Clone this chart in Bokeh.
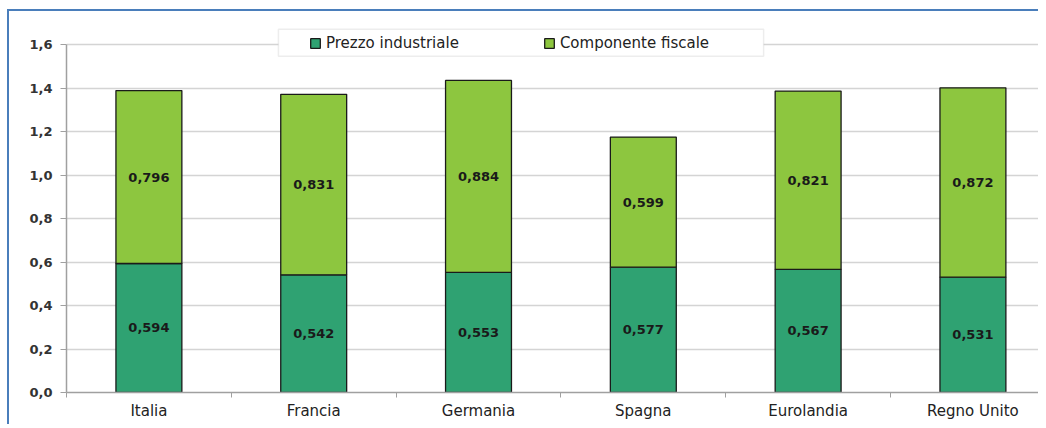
from bokeh.plotting import figure
from bokeh.models import (ColumnDataSource, Range1d, FixedTicker, CustomJSTickFormatter,
                          Legend, LegendItem, BoxAnnotation)
from bokeh.core.properties import value
from bokeh.embed import file_html
from bokeh.resources import INLINE

# Prezzo medio al consumo (euro/litro): prezzo industriale + componente fiscale
paesi = ["Italia", "Francia", "Germania", "Spagna", "Eurolandia", "Regno Unito"]
prezzo_industriale = [0.594, 0.542, 0.553, 0.577, 0.567, 0.531]
componente_fiscale = [0.796, 0.831, 0.884, 0.599, 0.821, 0.872]
serie = ["Prezzo industriale", "Componente fiscale"]
y_ticks = [0.0, 0.2, 0.4, 0.6, 0.8, 1.0, 1.2, 1.4, 1.6]

COL_PI = "#2FA272"
COL_CF = "#8DC63F"
EDGE = "#1A1A1A"
BLU = "#4A7EBB"
FONT = "DejaVu Sans"


def etichetta(v):
    return f"{v:.3f}".replace(".", ",")


x = [i + 0.5 for i in range(len(paesi))]
totale = [a + b for a, b in zip(prezzo_industriale, componente_fiscale)]
src = ColumnDataSource(dict(
    x=x,
    pi=prezzo_industriale,
    tot=totale,
    y_pi=[a / 2 for a in prezzo_industriale],
    y_cf=[a + b / 2 for a, b in zip(prezzo_industriale, componente_fiscale)],
    lab_pi=[etichetta(v) for v in prezzo_industriale],
    lab_cf=[etichetta(v) for v in componente_fiscale],
))

p = figure(width=1031, height=415,
           x_range=Range1d(0, 5.910), y_range=Range1d(0, 1.745),
           output_backend="svg", toolbar_location=None, title=None,
           min_border_left=57, min_border_right=0, min_border_top=2, min_border_bottom=34)
p.styles = {"margin-left": "7px", "margin-top": "9px",
            "border-top": f"2px solid {BLU}", "border-left": f"2px solid {BLU}"}
p.outline_line_color = None
p.background_fill_color = "white"
p.border_fill_color = "white"

# griglia orizzontale
p.xgrid.visible = False
p.ygrid.ticker = FixedTicker(ticks=y_ticks)
p.ygrid.grid_line_color = "#D4D4D4"
p.ygrid.grid_line_width = 1.5

# asse verticale
p.yaxis.ticker = FixedTicker(ticks=y_ticks)
p.yaxis.bounds = (0, 1.6)
p.yaxis.formatter = CustomJSTickFormatter(code="return tick.toFixed(1).replace('.', ',');")
p.yaxis.axis_line_color = "#A0A0A0"
p.yaxis.axis_line_width = 1.5
p.yaxis.major_tick_line_color = "#A0A0A0"
p.yaxis.major_tick_out = 6
p.yaxis.major_tick_in = 0
p.yaxis.minor_tick_line_color = None
p.yaxis.major_label_standoff = 8
p.yaxis.major_label_text_font = FONT
p.yaxis.major_label_text_font_style = "bold"
p.yaxis.major_label_text_font_size = "13px"
p.yaxis.major_label_text_color = "#333333"

# asse orizzontale: etichette al centro, tacche tra le categorie
p.xaxis.ticker = FixedTicker(ticks=x, minor_ticks=list(range(len(paesi))))
p.xaxis.formatter = CustomJSTickFormatter(args=dict(nomi=paesi),
                                          code="return nomi[Math.floor(tick)];")
p.xaxis.axis_line_color = "#A0A0A0"
p.xaxis.axis_line_width = 1.5
p.xaxis.major_tick_out = 0
p.xaxis.major_tick_in = 0
p.xaxis.minor_tick_out = 5
p.xaxis.minor_tick_in = 0
p.xaxis.minor_tick_line_color = "#A0A0A0"
p.xaxis.major_label_standoff = 4
p.xaxis.major_label_text_font = FONT
p.xaxis.major_label_text_font_size = "15px"
p.xaxis.major_label_text_color = "#222222"

# barre impilate
r1 = p.vbar(x="x", width=0.40, bottom=0, top="pi", source=src,
            fill_color=COL_PI, line_color=EDGE, line_width=1.3)
r2 = p.vbar(x="x", width=0.40, bottom="pi", top="tot", source=src,
            fill_color=COL_CF, line_color=EDGE, line_width=1.3)

for ycol, tcol in (("y_pi", "lab_pi"), ("y_cf", "lab_cf")):
    p.text(x="x", y=ycol, text=tcol, source=src,
           text_align="center", text_baseline="middle",
           text_font=value(FONT), text_font_style="bold",
           text_font_size="13px", text_color="#1A1A1A")

# riquadro della legenda
box = BoxAnnotation(left=1.286, right=4.23, bottom=1.548, top=1.673,
                    fill_color="white", fill_alpha=1.0,
                    line_color="#C4C4C4", line_width=1.5)
p.add_layout(box)

legend = Legend(items=[LegendItem(label=value(serie[0]), renderers=[r1]),
                       LegendItem(label=value(serie[1]), renderers=[r2])],
                orientation="horizontal", location=(243, 340),
                padding=0, margin=0, spacing=84,
                glyph_width=12, glyph_height=12, label_standoff=5,
                label_height=12,
                label_text_font=FONT, label_text_font_size="15px",
                label_text_color="#222222",
                border_line_color=None, background_fill_alpha=0)
p.add_layout(legend)

open("out.html", "w").write(file_html(p, INLINE))
